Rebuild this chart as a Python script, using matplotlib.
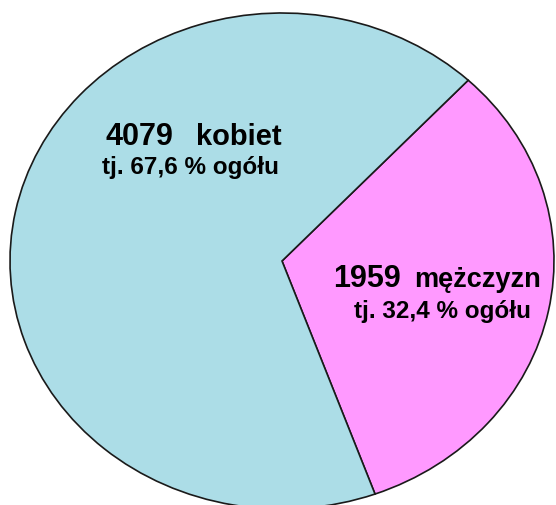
import matplotlib
matplotlib.use('Agg')
import matplotlib.pyplot as plt

counts = [1959, 4079]
names = ['mężczyzn', 'kobiet']
colors = ['#ff99ff', '#acdde7']

W, H = 556, 506
plt.rcParams['font.family'] = ['Liberation Sans', 'DejaVu Sans']

fig = plt.figure(figsize=(W / 100, H / 100), dpi=100)
ax = fig.add_axes([0, 0, 1, 1])

ax.pie(counts, colors=colors, startangle=-70, counterclock=True,
       wedgeprops=dict(edgecolor='#1a1a1a', linewidth=1.2))

# the picture is stretched sideways, so the circle is drawn as an ellipse
cx, cy, rx, ry = 282, 262, 272, 248
ax.set_aspect('auto')
ax.set_xlim(-cx / rx, (W - cx) / rx)
ax.set_ylim(-(H - cy) / ry, cy / ry)
ax.axis('off')

total = sum(counts)
pct = [('%.1f' % (100 * c / total)).replace('.', ',') for c in counts]


def px(x, y):
    return x / W, 1 - y / H


# (number left start, word right end, word size, line-1 baseline, line-2 centre, line-2 baseline)
pos = [(333, 541, 19.5, 287, 443, 318),
       (105, 282, 21, 145, 191, 174)]

for c, n, p, (xl, xr, ws, y1, xc, y2) in zip(counts, names, pct, pos):
    fig.text(*px(xl, y1), str(c), ha='left', va='baseline',
             fontsize=22, fontweight='bold')
    fig.text(*px(xr, y1), n, ha='right', va='baseline',
             fontsize=ws, fontweight='bold')
    fig.text(*px(xc, y2), 'tj. %s %% ogółu' % p, ha='center', va='baseline',
             fontsize=17.5, fontweight='bold')

fig.savefig('out.png', dpi=100)
